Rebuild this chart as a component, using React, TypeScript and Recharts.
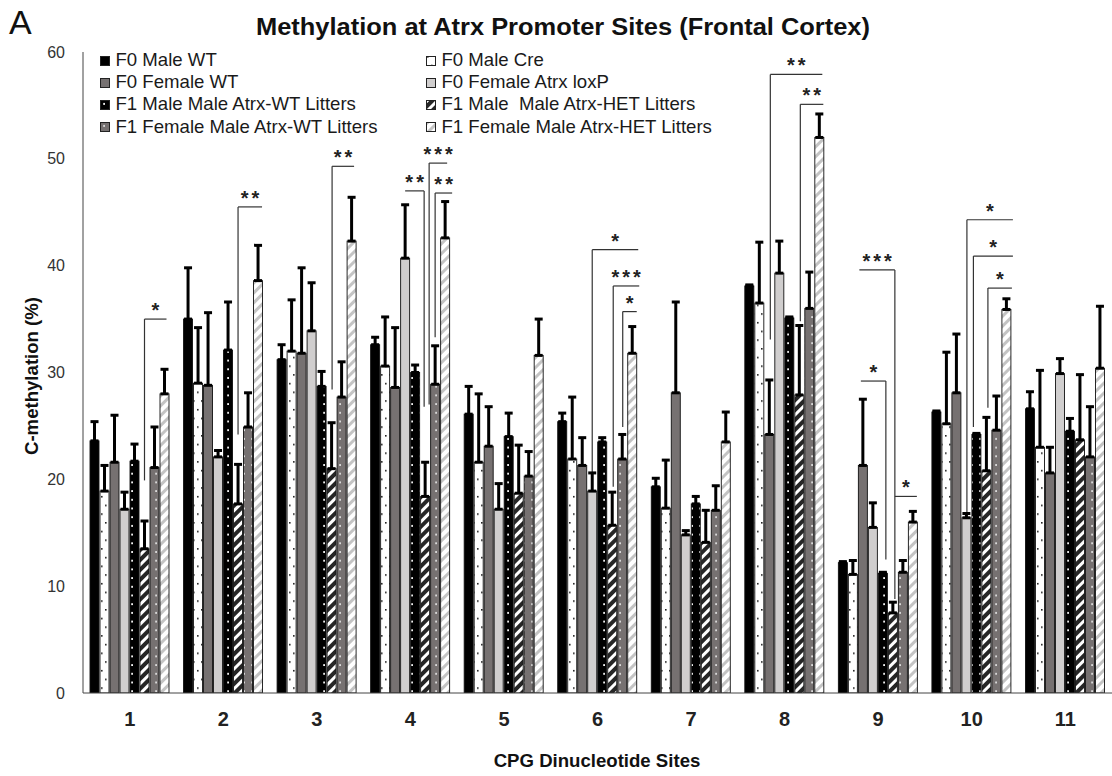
import React from 'react';
import { BarChart, Bar, XAxis, YAxis, ErrorBar, Legend } from 'recharts';

const FONT = "'Liberation Sans', Arial, Helvetica, sans-serif";
const BAR_SIZE = 9;
const BAR_GAP = 1;

const sites = ['1', '2', '3', '4', '5', '6', '7', '8', '9', '10', '11'];
const yTicks = [0, 10, 20, 30, 40, 50, 60];

const seriesNames = [
  'F0 Male WT',
  'F0 Male Cre',
  'F0 Female WT',
  'F0 Female Atrx loxP',
  'F1 Male Male Atrx-WT Litters',
  'F1 Male  Male Atrx-HET Litters',
  'F1 Female Male Atrx-WT Litters',
  'F1 Female Male Atrx-HET Litters',
];

// means (%)
const f0MaleWT = [23.6, 35.0, 31.2, 32.6, 26.1, 25.4, 19.3, 38.1, 12.2, 26.3, 26.6];
const f0MaleCre = [18.9, 29.0, 32.0, 30.6, 21.6, 21.9, 17.3, 36.5, 11.1, 25.2, 23.0];
const f0FemaleWT = [21.6, 28.8, 31.8, 28.6, 23.1, 21.3, 28.1, 24.2, 21.3, 28.1, 20.6];
const f0FemaleLoxP = [17.2, 22.1, 33.9, 40.7, 17.2, 18.9, 14.8, 39.3, 15.5, 16.4, 29.9];
const f1MaleWT = [21.7, 32.1, 28.7, 30.0, 24.0, 23.5, 17.7, 35.1, 11.2, 24.2, 24.5];
const f1MaleHET = [13.5, 17.7, 21.0, 18.4, 18.7, 15.7, 14.1, 27.9, 7.5, 20.8, 23.7];
const f1FemaleWT = [21.1, 24.9, 27.7, 28.9, 20.3, 21.9, 17.1, 36.0, 11.3, 24.6, 22.1];
const f1FemaleHET = [28.0, 38.6, 42.3, 42.6, 31.6, 31.8, 23.5, 52.0, 16.0, 35.9, 30.4];

// top of each error bar (%)
const f0MaleWTTop = [25.4, 39.8, 32.6, 33.3, 28.7, 26.2, 20.1, 38.2, 12.3, 26.4, 28.2];
const f0MaleCreTop = [21.3, 34.2, 36.8, 35.2, 28.0, 27.7, 21.8, 42.2, 12.4, 31.9, 30.2];
const f0FemaleWTTop = [26.0, 35.6, 39.8, 34.2, 26.8, 23.9, 36.6, 29.3, 27.5, 33.6, 23.0];
const f0FemaleLoxPTop = [18.8, 22.7, 38.4, 45.7, 19.6, 20.6, 15.2, 42.3, 17.8, 16.8, 31.3];
const f1MaleWTTop = [23.3, 36.6, 30.1, 30.7, 26.2, 23.9, 18.4, 35.2, 11.3, 24.3, 25.7];
const f1MaleHETTop = [16.1, 21.4, 25.3, 21.6, 23.2, 18.8, 17.1, 34.4, 8.5, 25.8, 29.8];
const f1FemaleWTTop = [24.9, 28.1, 31.0, 32.5, 22.6, 24.2, 19.4, 39.4, 12.4, 27.8, 26.8];
const f1FemaleHETTop = [30.3, 41.9, 46.4, 46.0, 35.0, 34.3, 26.3, 54.2, 17.0, 36.9, 36.2];

const means = [f0MaleWT, f0MaleCre, f0FemaleWT, f0FemaleLoxP, f1MaleWT, f1MaleHET, f1FemaleWT, f1FemaleHET];
const tops = [f0MaleWTTop, f0MaleCreTop, f0FemaleWTTop, f0FemaleLoxPTop, f1MaleWTTop, f1MaleHETTop, f1FemaleWTTop, f1FemaleHETTop];

// significance brackets: site index, horizontal span in bar slots, vertical at vx
const brackets = [
  { site: 0, from: 5, to: 7.2, vx: 5, top: 35.0, bottom: 19.9, label: '*' },
  { site: 1, from: 5, to: 7.4, vx: 5, top: 45.5, bottom: 24.2, label: '**' },
  { site: 2, from: 5.05, to: 7.25, vx: 5.05, top: 49.3, bottom: 28.4, label: '**' },
  { site: 3, from: 3, to: 4.9, vx: 4.9, top: 47.0, bottom: 26.8, label: '**' },
  { site: 3, from: 5.4, to: 7.2, vx: 5.4, top: 49.6, bottom: 27.0, label: '***' },
  { site: 3, from: 6, to: 7.7, vx: 6, top: 46.8, bottom: 33.3, label: '**' },
  { site: 5, from: 3, to: 7.6, vx: 3, top: 41.5, bottom: 20.6, label: '*' },
  { site: 5, from: 5.1, to: 7.7, vx: 5.1, top: 38.1, bottom: 19.3, label: '***' },
  { site: 5, from: 6.05, to: 7.45, vx: 6.05, top: 35.7, bottom: 24.9, label: '*' },
  { site: 7, from: 2.1, to: 7.3, vx: 2.1, top: 57.9, bottom: 33.1, label: '**' },
  { site: 7, from: 5.1, to: 7.4, vx: 5.1, top: 55.1, bottom: 34.8, label: '**' },
  { site: 8, from: 1.65, to: 5.2, vx: 5.2, top: 39.6, bottom: 8.8, label: '***' },
  { site: 8, from: 1.8, to: 4.3, vx: 4.3, top: 29.2, bottom: 12.5, label: '*' },
  { site: 8, from: 5.2, to: 7.4, vx: 5.2, top: 18.4, bottom: 18.4, label: '*' },
  { site: 9, from: 3.05, to: 7.65, vx: 3.05, top: 44.3, bottom: 16.9, label: '*' },
  { site: 9, from: 3.7, to: 7.65, vx: 3.7, top: 40.9, bottom: 24.9, label: '*' },
  { site: 9, from: 5.15, to: 7.55, vx: 5.15, top: 37.9, bottom: 26.7, label: '*' },
];

const fills = [
  '#000000',
  'url(#pCre)',
  '#767171',
  '#d0cece',
  'url(#pMaleWT)',
  'url(#pHatchDark)',
  'url(#pFemaleWT)',
  'url(#pHatchLight)',
];

const data = sites.map((site, i) => {
  const row: Record<string, any> = { site };
  means.forEach((arr, k) => {
    row[`s${k}`] = arr[i];
    row[`e${k}`] = [0, Math.max(0.1, +(tops[k][i] - arr[i]).toFixed(2))];
  });
  return row;
});

const Patterns = () => (
  <svg width={0} height={0} style={{ position: 'absolute' }}>
    <defs>
      <pattern id="pCre" width={8} height={17.4} patternUnits="userSpaceOnUse">
        <rect width={8} height={17.4} fill="#fff" />
        <rect x={1} y={0} width={1.6} height={1.6} fill="#222" />
        <rect x={5} y={8.7} width={1.6} height={1.6} fill="#222" />
      </pattern>
      <pattern id="pMaleWT" width={8} height={8.7} patternUnits="userSpaceOnUse">
        <rect width={8} height={8.7} fill="#000" />
        <rect x={3.2} y={3} width={1.8} height={1.8} fill="#fff" />
      </pattern>
      <pattern id="pFemaleWT" width={8} height={8.7} patternUnits="userSpaceOnUse">
        <rect width={8} height={8.7} fill="#767171" />
        <rect x={3.2} y={3} width={1.8} height={1.8} fill="#e0e0e0" />
      </pattern>
      <pattern id="pHatchDark" width={7} height={7} patternUnits="userSpaceOnUse" patternTransform="rotate(45)">
        <rect width={7} height={7} fill="#262626" />
        <rect x={0} y={0} width={3} height={7} fill="#fff" />
      </pattern>
      <pattern id="pHatchLight" width={7} height={7} patternUnits="userSpaceOnUse" patternTransform="rotate(45)">
        <rect width={7} height={7} fill="#fff" />
        <rect x={0} y={0} width={3} height={7} fill="#c4c4c4" />
      </pattern>
    </defs>
  </svg>
);

const renderBrackets = (props: any) => {
  const { x, y, width, height, index, payload } = props;
  const list = brackets.filter((b) => b.site === index);
  if (!list.length) return null;
  const base = y + height;
  const perUnit = height / payload.s7;
  const py = (v: number) => base - v * perUnit;
  const cx7 = x + width / 2;
  const px = (slot: number) => cx7 - (7 - slot) * (width + BAR_GAP);
  return list.map((b, j) => {
    const ty = py(b.top);
    return (
      <g key={j}>
        <line x1={px(b.from)} x2={px(b.to)} y1={ty} y2={ty} stroke="#333" strokeWidth={1.2} />
        {b.bottom < b.top && (
          <line x1={px(b.vx)} x2={px(b.vx)} y1={ty} y2={py(b.bottom)} stroke="#333" strokeWidth={1.2} />
        )}
        <text
          x={(px(b.from) + px(b.to)) / 2 + 1.5}
          y={ty - 2}
          textAnchor="middle"
          fontFamily={FONT}
          fontWeight="bold"
          fontSize={20}
          letterSpacing={3}
          fill="#222"
        >
          {b.label}
        </text>
      </g>
    );
  });
};

const makeShape = (k: number) => (props: any) => {
  const { x, y, width, height } = props;
  return (
    <g>
      <rect x={x} y={y} width={width} height={height} fill={fills[k]} stroke="#111" strokeWidth={0.9} />
      {k === 7 && renderBrackets(props)}
    </g>
  );
};

const LegendBox = () => (
  <div
    style={{
      display: 'grid',
      gridTemplateColumns: '326px 326px',
      fontFamily: FONT,
      fontSize: 18.6,
      lineHeight: '22.2px',
      color: '#1a1a1a',
      whiteSpace: 'nowrap',
    }}
  >
    {seriesNames.map((name, k) => (
      <div key={name} style={{ display: 'flex', alignItems: 'center' }}>
        <svg width={10} height={10} style={{ marginRight: 5.5, marginTop: 1 }}>
          <rect x={0.5} y={0.5} width={9} height={9} fill={fills[k]} stroke="#222" strokeWidth={1} />
        </svg>
        <span style={{ whiteSpace: 'pre' }}>{name}</span>
      </div>
    ))}
  </div>
);

const XTick = (props: any) => {
  const { x, payload } = props;
  return (
    <text x={x} y={726} textAnchor="middle" fontFamily={FONT} fontWeight="bold" fontSize={20} fill="#222">
      {payload.value}
    </text>
  );
};

const YTick = (props: any) => {
  const { y, payload } = props;
  return (
    <text x={65} y={y + 5.5} textAnchor="end" fontFamily={FONT} fontSize={16} fill="#333">
      {payload.value}
    </text>
  );
};

const App = () => (
  <div style={{ position: 'absolute', left: 0, top: 0, width: 1112, height: 776, background: '#fff' }}>
    <Patterns />
    <BarChart
      width={1112}
      height={776}
      data={data}
      margin={{ top: 52, right: 0, bottom: 0, left: 0 }}
      barSize={BAR_SIZE}
      barGap={BAR_GAP}
    >
      <XAxis
        dataKey="site"
        height={83}
        tickLine={false}
        tickSize={0}
        axisLine={{ stroke: '#444' }}
        tick={<XTick />}
        interval={0}
      />
      <YAxis
        width={83}
        domain={[0, 60]}
        ticks={yTicks}
        tickLine={false}
        tickSize={0}
        axisLine={{ stroke: '#444' }}
        tick={<YTick />}
        allowDataOverflow
      />
      <Legend
        layout="vertical"
        align="center"
        verticalAlign="middle"
        content={() => <LegendBox />}
        wrapperStyle={{ top: 49, left: 100, width: 660 }}
      />
      {seriesNames.map((name, k) => (
        <Bar key={name} dataKey={`s${k}`} name={name} shape={makeShape(k)} isAnimationActive={false}>
          <ErrorBar dataKey={`e${k}`} direction="y" width={4} strokeWidth={3} stroke="#000" />
        </Bar>
      ))}
    </BarChart>
    <svg
      width={1112}
      height={776}
      style={{ position: 'absolute', left: 0, top: 0, pointerEvents: 'none' }}
    >
      <text x={9} y={34} fontFamily={FONT} fontSize={34} fill="#111">
        A
      </text>
      <text
        x={563}
        y={35}
        textAnchor="middle"
        fontFamily={FONT}
        fontWeight="bold"
        fontSize={23.5}
        textLength={614}
        lengthAdjust="spacingAndGlyphs"
        fill="#111"
      >
        Methylation at Atrx Promoter Sites (Frontal Cortex)
      </text>
      <text
        x={38}
        y={376}
        transform="rotate(-90 38 376)"
        textAnchor="middle"
        fontFamily={FONT}
        fontWeight="bold"
        fontSize={18.6}
        fill="#111"
      >
        C-methylation (%)
      </text>
      <text
        x={597}
        y={766.5}
        textAnchor="middle"
        fontFamily={FONT}
        fontWeight="bold"
        fontSize={18.6}
        fill="#111"
      >
        CPG Dinucleotide Sites
      </text>
    </svg>
  </div>
);

export default App;
